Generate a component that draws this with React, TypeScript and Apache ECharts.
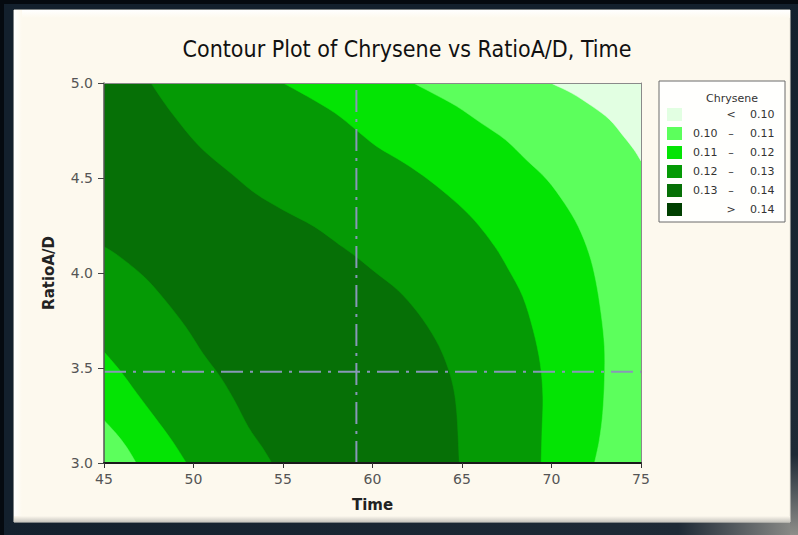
import React, { useEffect, useRef } from "react";
import * as echarts from "echarts";

// ---- data ----
const timeTicks = [45, 50, 55, 60, 65, 70, 75];
const ratioTicks = [3.0, 3.5, 4.0, 4.5, 5.0];

// contour band colours (from low to high): <0.10, 0.10-0.11, 0.11-0.12, 0.12-0.13, 0.13-0.14, >0.14
const bandColors = ["#e2ffe2", "#5cff5c", "#04e404", "#059a05", "#067006", "#003f00"];
const legendLow = ["", "0.10", "0.11", "0.12", "0.13", ""];
const legendMid = ["<", "–", "–", "–", "–", ">"];
const legendHigh = ["0.10", "0.11", "0.12", "0.13", "0.14", "0.14"];

// plot extent [time, ratio]
const plotCorners: number[][] = [[45, 3], [75, 3], [75, 5], [45, 5]];

// contour line 0.13, upper-right side (time, ratio)
const upper013: number[][] = [
  [47.62, 5.0], [48.79, 4.842], [50.34, 4.666], [52.09, 4.525], [53.45, 4.42],
  [55.0, 4.332], [56.75, 4.244], [58.3, 4.139], [59.08, 4.086], [60.24, 3.998],
  [61.41, 3.91], [62.57, 3.787], [63.54, 3.647], [64.13, 3.524], [64.51, 3.401],
  [64.71, 3.26], [64.85, 3.0],
];
// contour line 0.12, upper-right side
const upper012: number[][] = [
  [55.0, 5.0], [56.36, 4.93], [57.91, 4.842], [59.08, 4.754], [60.24, 4.666],
  [61.8, 4.578], [63.15, 4.49], [64.51, 4.385], [65.68, 4.279], [66.84, 4.139],
  [67.62, 4.016], [68.4, 3.875], [68.98, 3.699], [69.37, 3.524], [69.52, 3.348],
  [69.47, 3.172], [69.42, 3.0],
];
// contour line 0.11, upper-right side
const upper011: number[][] = [
  [62.28, 5.0], [63.35, 4.947], [64.71, 4.877], [66.07, 4.789], [67.43, 4.701],
  [68.59, 4.596], [69.76, 4.49], [70.73, 4.367], [71.5, 4.244], [72.09, 4.104],
  [72.47, 3.963], [72.77, 3.787], [72.96, 3.612], [72.96, 3.436], [72.86, 3.26],
  [72.67, 3.119], [72.4, 3.0],
];
// contour line 0.10, upper-right corner
const upper010: number[][] = [
  [69.95, 5.0], [71.12, 4.947], [72.28, 4.877], [73.25, 4.807], [74.03, 4.719],
  [74.61, 4.649], [75.0, 4.59],
];
// contour line 0.13, lower-left side
const lower013: number[][] = [
  [45.0, 4.139], [45.87, 4.086], [47.23, 3.981], [48.4, 3.858], [49.56, 3.717],
  [50.53, 3.576], [51.5, 3.453], [52.28, 3.33], [53.06, 3.19], [53.83, 3.084],
  [54.38, 3.0],
];
// contour line 0.12, lower-left side
const lower012: number[][] = [
  [45.0, 3.585], [45.87, 3.489], [46.84, 3.366], [47.82, 3.243], [48.79, 3.119],
  [49.6, 3.0],
];
// contour line 0.11, lower-left corner
const lower011: number[][] = [
  [45.0, 3.225], [45.68, 3.155], [46.26, 3.084], [46.8, 3.0],
];

// reference (dash-dot) lines
const refTime = 59.1;
const refRatio = 3.48;

// smooth path (Catmull-Rom rendered as cubic Béziers) through the given pixel points,
// then straight segments through the closing corners
function smoothPath(curve: number[][], corners: number[][]): string {
  const n = curve.length;
  let d = `M${curve[0][0]},${curve[0][1]}`;
  for (let i = 0; i < n - 1; i++) {
    const p0 = curve[Math.max(0, i - 1)];
    const p1 = curve[i];
    const p2 = curve[i + 1];
    const p3 = curve[Math.min(n - 1, i + 2)];
    const c1x = p1[0] + (p2[0] - p0[0]) / 6;
    const c1y = p1[1] + (p2[1] - p0[1]) / 6;
    const c2x = p2[0] - (p3[0] - p1[0]) / 6;
    const c2y = p2[1] - (p3[1] - p1[1]) / 6;
    d += ` C${c1x},${c1y} ${c2x},${c2y} ${p2[0]},${p2[1]}`;
  }
  corners.forEach((c) => {
    d += ` L${c[0]},${c[1]}`;
  });
  return d + " Z";
}

export default function App() {
  const ref = useRef<HTMLDivElement>(null);

  useEffect(() => {
    if (!ref.current) return;
    const chart = echarts.init(ref.current, undefined, { renderer: "svg" });

    const topRight = [[75, 3], [75, 5]];
    const regions = [
      { curve: plotCorners, corners: [] as number[][], color: bandColors[4], straight: true },
      { curve: upper013, corners: topRight, color: bandColors[3], straight: false },
      { curve: upper012, corners: topRight, color: bandColors[2], straight: false },
      { curve: upper011, corners: topRight, color: bandColors[1], straight: false },
      { curve: upper010, corners: [[75, 5]], color: bandColors[0], straight: false },
      { curve: lower013, corners: [[45, 3]], color: bandColors[3], straight: false },
      { curve: lower012, corners: [[45, 3]], color: bandColors[2], straight: false },
      { curve: lower011, corners: [[45, 3]], color: bandColors[1], straight: false },
    ];

    const font = "DejaVu Sans";
    const gridLeft = 104, gridTop = 83, gridW = 537, gridH = 380;

    // legend graphics
    const lgX = 659, lgY = 81, rowY0 = 114.5, rowStep = 19;
    const legendEls: any[] = [
      {
        type: "rect",
        shape: { x: lgX, y: lgY, width: 126, height: 141 },
        style: { fill: "#fffffd", stroke: "#6a6a6a", lineWidth: 1 },
      },
      {
        type: "text",
        x: 732, y: 98,
        style: { text: "Chrysene", font: `11px ${font}`, fill: "#333", align: "center", verticalAlign: "middle" },
      },
    ];
    [0, 1, 2, 3, 4, 5].forEach((k, i) => {
      const cy = rowY0 + i * rowStep;
      legendEls.push({
        type: "rect",
        shape: { x: 667, y: cy - 6.5, width: 15, height: 13 },
        style: { fill: bandColors[k] },
      });
      if (legendLow[k])
        legendEls.push({
          type: "text", x: 693, y: cy,
          style: { text: legendLow[k], font: `11px ${font}`, fill: "#333", align: "left", verticalAlign: "middle" },
        });
      legendEls.push({
        type: "text", x: 731, y: cy,
        style: { text: legendMid[k], font: `11px ${font}`, fill: "#333", align: "center", verticalAlign: "middle" },
      });
      legendEls.push({
        type: "text", x: 750, y: cy,
        style: { text: legendHigh[k], font: `11px ${font}`, fill: "#333", align: "left", verticalAlign: "middle" },
      });
    });

    const dashDot = [22, 7, 3, 7];
    const refColor = "#8898b8";

    chart.setOption({
      animation: false,
      backgroundColor: "#13202d",
      title: {
        text: "Contour Plot of Chrysene vs RatioA/D, Time",
        left: 402,
        top: 32,
        textAlign: "center",
        textStyle: { fontFamily: "DejaVu Sans Condensed", fontSize: 23, fontWeight: "normal", color: "#111" },
      },
      graphic: [
        {
          type: "rect", z: -10, silent: true,
          shape: { x: 0, y: 522, width: 798, height: 13 },
          style: {
            fill: new echarts.graphic.LinearGradient(0, 0, 1, 0, [
              { offset: 0, color: "#13202d" },
              { offset: 0.85, color: "#1e2a36" },
              { offset: 1, color: "#8e8e8a" },
            ]),
          },
        },
        {
          type: "rect", z: -10, silent: true,
          shape: { x: 790, y: 0, width: 8, height: 535 },
          style: {
            fill: new echarts.graphic.LinearGradient(0, 0, 0, 1, [
              { offset: 0, color: "#13202d" },
              { offset: 0.85, color: "#1e2a36" },
              { offset: 1, color: "#8e8e8a" },
            ]),
          },
        },
        {
          type: "rect", z: -9, silent: true,
          shape: { x: 0, y: 0, width: 798, height: 4 },
          style: { fill: "#050a10" },
        },
        {
          type: "rect", z: -9, silent: true,
          shape: { x: 0, y: 0, width: 4, height: 535 },
          style: { fill: "#050a10" },
        },
        {
          type: "rect", z: -8, silent: true,
          shape: { x: 14, y: 10, width: 776, height: 512 },
          style: { fill: "#fdf9ee", stroke: "#e8e4da", lineWidth: 1 },
        },
        {
          type: "rect", z: -7, silent: true,
          shape: { x: 14, y: 10, width: 776, height: 8 },
          style: {
            fill: new echarts.graphic.LinearGradient(0, 0, 0, 1, [
              { offset: 0, color: "#ffffff" },
              { offset: 1, color: "#fdf9ee" },
            ]),
          },
        },
        {
          type: "rect", z: -7, silent: true,
          shape: { x: 14, y: 10, width: 8, height: 512 },
          style: {
            fill: new echarts.graphic.LinearGradient(0, 0, 1, 0, [
              { offset: 0, color: "#ffffff" },
              { offset: 1, color: "#fdf9ee" },
            ]),
          },
        },
        {
          type: "rect", z: -7, silent: true,
          shape: { x: 14, y: 516, width: 776, height: 6 },
          style: {
            fill: new echarts.graphic.LinearGradient(0, 0, 0, 1, [
              { offset: 0, color: "#fdf9ee" },
              { offset: 1, color: "#c8c6bf" },
            ]),
          },
        },
        ...legendEls,
      ],
      grid: { left: gridLeft, top: gridTop, width: gridW, height: gridH, show: false },
      xAxis: [
        {
          type: "value",
          min: timeTicks[0],
          max: timeTicks[timeTicks.length - 1],
          interval: 5,
          position: "bottom",
          axisLine: { show: true, onZero: false, lineStyle: { color: "#1a1a1a", width: 2 } },
          axisTick: { show: true, length: 5, lineStyle: { color: "#333", width: 1 } },
          axisLabel: { color: "#555", fontSize: 14, fontFamily: font, margin: 9 },
          splitLine: { show: false },
          name: "Time",
          nameLocation: "middle",
          nameGap: 34,
          nameTextStyle: { color: "#222", fontSize: 15, fontWeight: "bold", fontFamily: font },
          z: 10,
        },
        {
          type: "value",
          min: timeTicks[0],
          max: timeTicks[timeTicks.length - 1],
          position: "top",
          axisLine: { show: true, onZero: false, lineStyle: { color: "#8a8a8a", width: 1 } },
          axisTick: { show: false },
          axisLabel: { show: false },
          splitLine: { show: false },
          z: 10,
        },
      ],
      yAxis: [
        {
          type: "value",
          min: ratioTicks[0],
          max: ratioTicks[ratioTicks.length - 1],
          interval: 0.5,
          position: "left",
          axisLine: { show: true, onZero: false, lineStyle: { color: "#555", width: 1.5 } },
          axisTick: { show: true, length: 6, lineStyle: { color: "#444", width: 1 } },
          axisLabel: {
            color: "#555", fontSize: 14, fontFamily: font, margin: 11,
            formatter: (v: number) => v.toFixed(1),
          },
          splitLine: { show: false },
          name: "RatioA/D",
          nameLocation: "middle",
          nameGap: 48,
          nameTextStyle: { color: "#222", fontSize: 15, fontWeight: "bold", fontFamily: font },
          z: 10,
        },
        {
          type: "value",
          min: ratioTicks[0],
          max: ratioTicks[ratioTicks.length - 1],
          position: "right",
          axisLine: { show: true, onZero: false, lineStyle: { color: "#8a8a8a", width: 1 } },
          axisTick: { show: false },
          axisLabel: { show: false },
          splitLine: { show: false },
          z: 10,
        },
      ],
      series: [
        {
          type: "custom",
          silent: true,
          clip: true,
          encode: { x: 0, y: 1 },
          data: regions.map((r) => [r.curve[0][0], r.curve[0][1]]),
          renderItem: (params: any, api: any) => {
            const r = regions[params.dataIndex];
            const curvePx = r.curve.map((p) => api.coord(p));
            const cornersPx = r.corners.map((p) => api.coord(p));
            if (r.straight) {
              return {
                type: "polygon",
                shape: { points: curvePx },
                style: { fill: r.color },
              };
            }
            return {
              type: "path",
              shape: { pathData: smoothPath(curvePx, cornersPx) },
              style: { fill: r.color, stroke: r.color, lineWidth: 0.5 },
            };
          },
          z: 2,
        },
        {
          type: "line",
          silent: true,
          symbol: "none",
          data: [[refTime, ratioTicks[0]], [refTime, ratioTicks[ratioTicks.length - 1]]],
          lineStyle: { color: refColor, width: 2, type: dashDot },
          z: 5,
        },
        {
          type: "line",
          silent: true,
          symbol: "none",
          data: [[timeTicks[0], refRatio], [timeTicks[timeTicks.length - 1], refRatio]],
          lineStyle: { color: refColor, width: 2, type: dashDot },
          z: 5,
        },
      ],
    });

    return () => chart.dispose();
  }, []);

  return (
    <div
      ref={ref}
      style={{ position: "fixed", left: 0, top: 0, width: 798, height: 535 }}
    />
  );
}
